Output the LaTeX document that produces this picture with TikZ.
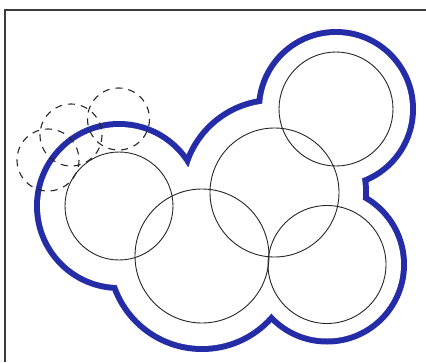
\documentclass[tikz,border=0pt]{standalone}
\definecolor{outlineblue}{RGB}{36,44,168}
\definecolor{framegray}{RGB}{60,60,60}
\tikzset{
  solidcirc/.style={draw=black!85, line width=0.9pt},
  dashcirc/.style={draw=black!85, line width=1.1pt, dash pattern=on 7pt off 6pt},
  framestyle/.style={draw=framegray, line width=1.6pt},
}
\begin{document}
\begin{tikzpicture}[x=1pt,y=-1pt]
\useasboundingbox (0,0) rectangle (426,362);
% blue outline: union of offset discs
\def\bw{3}
\fill[outlineblue] (336,109) circle (77+\bw) (119,206) circle (82+\bw) (202,256) circle (93+\bw) (274,192) circle (92+\bw) (327,264.5) circle (77+\bw);
\fill[white] (336,109) circle (77-\bw);
\fill[white] (119,206) circle (82-\bw);
\fill[white] (202,256) circle (93-\bw);
\fill[white] (274,192) circle (92-\bw);
\fill[white] (327,264.5) circle (77-\bw);
% solid circles
\draw[solidcirc] (336,109) circle (57);
\draw[solidcirc] (119,206) circle (54);
\draw[solidcirc] (202,256) circle (67);
\draw[solidcirc] (274.5,192.5) circle (64.5);
\draw[solidcirc] (327,264.5) circle (59);
% dashed circles
\draw[dashcirc] (118.5,119) circle (31);
\draw[dashcirc] (71,135) circle (31);
\draw[dashcirc] (48,160) circle (31);
% frame
\coordinate (fbl) at (5,362);
\coordinate (ftl) at (5,10);
\coordinate (ftr) at (426,10);
\draw[framestyle] (fbl) -- (ftl) -- (ftr);
\end{tikzpicture}
\end{document}
